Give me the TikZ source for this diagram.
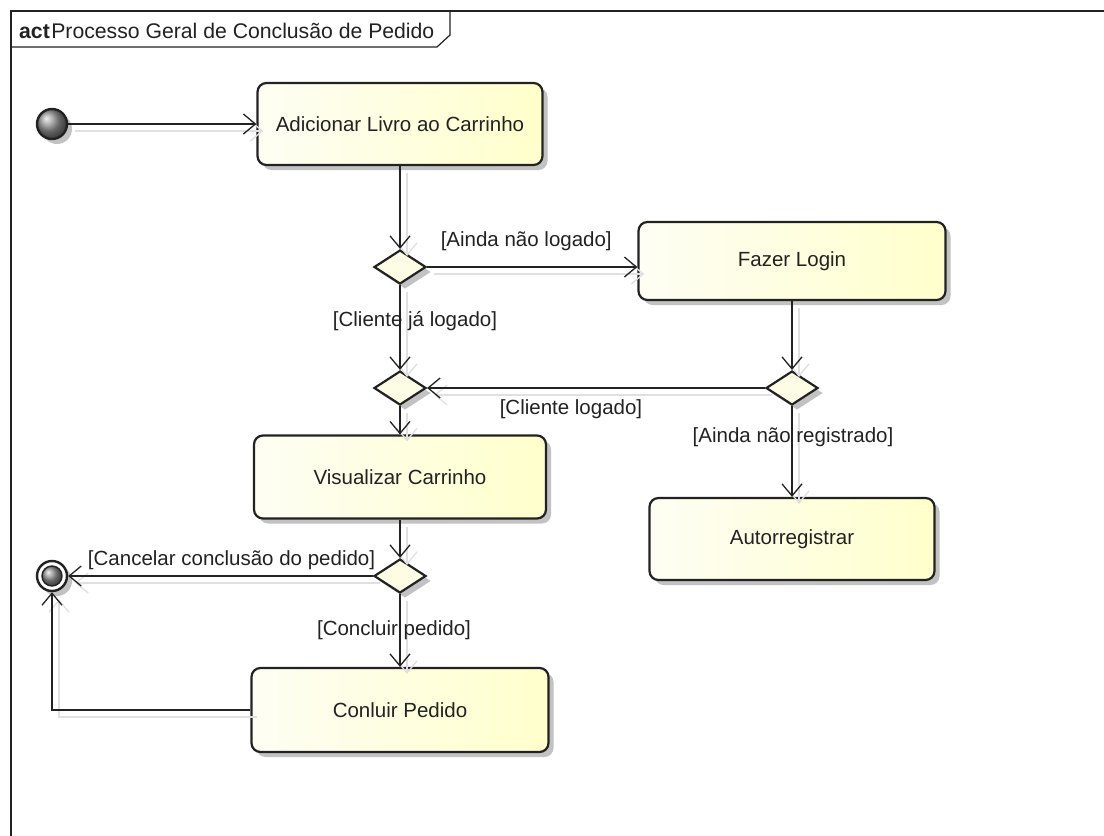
\documentclass[tikz,border=0pt]{standalone}
\usepackage{fontspec}
\setmainfont{Liberation Sans}
\usetikzlibrary{shapes.geometric,arrows.meta,shadows}

\definecolor{inkc}{HTML}{222222}
\definecolor{actleft}{HTML}{FEFEF4}
\definecolor{actright}{HTML}{FFFFCC}
\definecolor{decfill}{HTML}{FDFDE6}

\begin{document}
\begin{tikzpicture}[x=1pt,y=-1pt,
  every node/.style={font=\fontsize{20.5}{24}\selectfont, text=inkc},
  nshadow/.style={drop shadow={shadow xshift=5pt, shadow yshift=-5pt, fill=black, opacity=.24}},
  action/.style={draw=inkc, line width=2.2pt, rounded corners=9pt, inner sep=0pt,
    left color=actleft, right color=actright, nshadow},
  decision/.style={diamond, draw=inkc, line width=2.2pt, fill=decfill, inner sep=0pt,
    minimum width=52pt, minimum height=34pt, nshadow},
  flow/.style={draw=inkc, line width=1.3pt,
    -{Straight Barb[length=12pt,width=20pt,line width=1.3pt]},
    preaction={draw=black!12, line width=1.5pt, transform canvas={xshift=7pt,yshift=-7pt}}},
  guard/.style={inner sep=1pt, fill=none}
]
\useasboundingbox (0,0) rectangle (1104,836);
\fill[white] (0,0) rectangle (1104,836);

% frame with its name tab
\draw[inkc, line width=1.2pt] (11,845) -- (11,11) -- (1110,11);
\draw[inkc, line width=1.2pt] (11,47) -- (437,47) -- (450,35) -- (450,11);
\node[anchor=west, inner sep=0pt, font=\fontsize{21.2}{24}\selectfont] (title) at (19,31)
  {\textbf{act}\hspace{1.5pt}Processo Geral de Conclusão de Pedido};

% start and end
\node[circle, draw=inkc, line width=2.4pt, shading=ball, ball color=gray!85,
  minimum size=30pt, inner sep=0pt, nshadow] (start) at (52,124) {};
\node[circle, draw=inkc, line width=2.4pt, fill=white, minimum size=30pt,
  inner sep=0pt, nshadow] (final) at (52,576) {};
\node[circle, shading=ball, ball color=gray!85, minimum size=20pt, inner sep=0pt,
  draw=inkc, line width=1.4pt] (finalin) at (52,576) {};

% actions
\node[action, minimum width=285pt, minimum height=82pt] (add) at (400,124) {Adicionar Livro ao Carrinho};
\node[action, minimum width=307pt, minimum height=78pt] (login) at (792,261) {Fazer Login};
\node[action, minimum width=292pt, minimum height=83pt] (view) at (400,477) {Visualizar Carrinho};
\node[action, minimum width=285pt, minimum height=82pt] (reg) at (792,539) {Autorregistrar};
\node[action, minimum width=297pt, minimum height=84pt] (done) at (400,710) {Conluir Pedido};

% decisions
\node[decision] (d1) at (400,267) {};
\node[decision] (d2) at (400,388) {};
\node[decision] (d3) at (792,388) {};
\node[decision] (d4) at (400,576) {};

% flows
\draw[flow] (start) -- (add.west |- start);
\draw[flow] (add) -- (d1);
\draw[flow] (d1.east) -- node[guard, midway, xshift=-6pt, yshift=26pt] {[Ainda não logado]} (d1.east -| login.west);
\draw[flow] (d1) -- node[guard, midway, xshift=15pt, yshift=6pt] {[Cliente já logado]} (d2);
\draw[flow] (login.south -| d3) -- (d3);
\draw[flow] (d3.west) -- node[guard, midway, xshift=-25pt, yshift=-21pt] {[Cliente logado]} (d2.east);
\draw[flow] (d3) -- node[guard, midway, xshift=1pt, yshift=14pt] {[Ainda não registrado]} (reg);
\draw[flow] (d2) -- (view);
\draw[flow] (view) -- (d4);
\draw[flow] (d4.west) -- node[guard, midway, xshift=11pt, yshift=16pt] {[Cancelar conclusão do pedido]} (final.east);
\draw[flow] (d4) -- node[guard, midway, xshift=-6pt, yshift=0pt] {[Concluir pedido]} (done);
\draw[flow] (done.west) -| (final.south);
\end{tikzpicture}
\end{document}
